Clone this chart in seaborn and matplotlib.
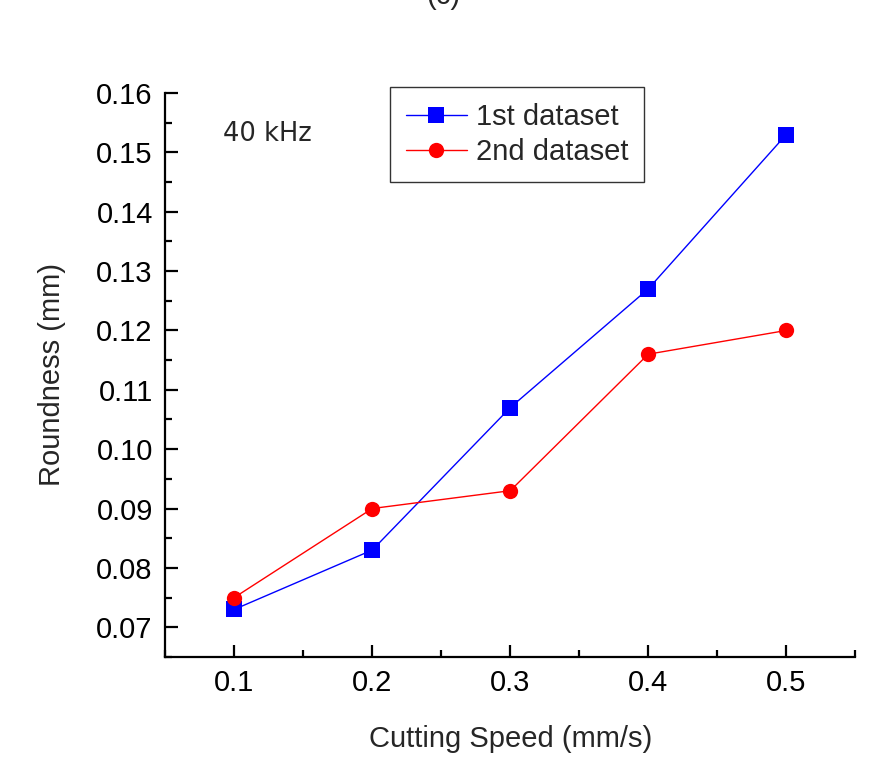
import matplotlib
matplotlib.use("Agg")
import matplotlib.pyplot as plt
import seaborn as sns
import pandas as pd
from matplotlib.ticker import MultipleLocator, FormatStrFormatter

speed = [0.1, 0.2, 0.3, 0.4, 0.5]
first = [0.073, 0.083, 0.107, 0.127, 0.153]
second = [0.075, 0.090, 0.093, 0.116, 0.120]
series_names = ["1st dataset", "2nd dataset"]

df = pd.DataFrame({
    "speed": speed * 2,
    "roundness": first + second,
    "series": [series_names[0]] * 5 + [series_names[1]] * 5,
})

sns.set_style("white")
plt.rcParams["font.family"] = ["Liberation Sans", "DejaVu Sans"]

fig = plt.figure(figsize=(8.7, 7.82), dpi=100)
ax = fig.add_axes([0.19, 0.160, 0.793, 0.721])

sns.lineplot(data=df, x="speed", y="roundness", hue="series", style="series",
             palette={series_names[0]: "#0000ff", series_names[1]: "#ff0000"},
             markers={series_names[0]: "s", series_names[1]: "o"},
             dashes=False, markersize=11, linewidth=1.0, markeredgewidth=0,
             ax=ax)

ax.set_xlim(0.05, 0.55)
ax.set_ylim(0.065, 0.16)
ax.xaxis.set_major_locator(MultipleLocator(0.1))
ax.xaxis.set_minor_locator(MultipleLocator(0.05))
ax.yaxis.set_major_locator(MultipleLocator(0.01))
ax.yaxis.set_minor_locator(MultipleLocator(0.005))
ax.xaxis.set_major_formatter(FormatStrFormatter("%.1f"))
ax.yaxis.set_major_formatter(FormatStrFormatter("%.2f"))

for s in ["top", "right"]:
    ax.spines[s].set_visible(False)
for s in ["left", "bottom"]:
    ax.spines[s].set_linewidth(1.6)
    ax.spines[s].set_color("black")

ax.tick_params(axis="both", which="both", direction="in", colors="black",
               bottom=True, left=True, top=False, right=False)
ax.tick_params(axis="both", which="major", length=9, width=1.6,
               labelsize=21, pad=9)
ax.tick_params(axis="both", which="minor", length=5, width=1.6)

ax.set_xlabel("Cutting Speed (mm/s)", fontsize=21, labelpad=20)
ax.set_ylabel("Roundness (mm)", fontsize=21, labelpad=22)

leg = ax.legend(loc="upper left", bbox_to_anchor=(0.325, 1.01), fontsize=21,
                frameon=True, fancybox=False, edgecolor="black",
                handlelength=2.1, borderpad=0.55, labelspacing=0.22,
                handletextpad=0.3, borderaxespad=0)
leg.get_frame().set_linewidth(1.0)

ax.text(0.083, 0.927, "40 kHz", transform=ax.transAxes, fontsize=18.5,
        family="DejaVu Sans", va="center")

fig.text(0.51, 1 - 4 / 782, "(c)", fontsize=21, ha="center", va="baseline")

fig.savefig("out.png", dpi=100, facecolor="white")
